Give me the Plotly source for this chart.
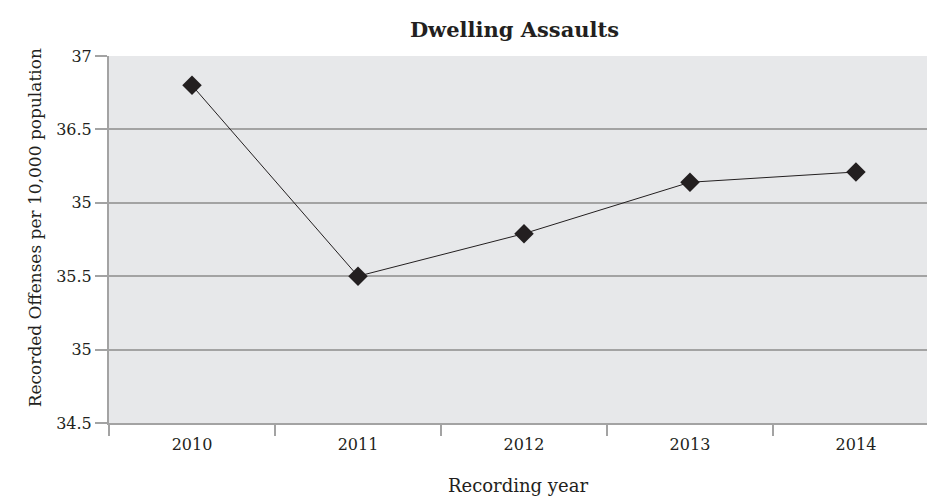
import plotly.graph_objects as go

years = ["2010", "2011", "2012", "2013", "2014"]
offenses = [36.80, 35.50, 35.79, 36.14, 36.21]
ytick_vals = [34.5, 35.0, 35.5, 36.0, 36.5, 37.0]
ytick_text = ["34.5", "35", "35.5", "35", "36.5", "37"]

FONT = "DejaVu Serif"
INK = "#231f20"
GRID = "#a3a3a3"

fig = go.Figure()
fig.add_trace(go.Scatter(
    x=years, y=offenses, mode="lines+markers",
    line=dict(color=INK, width=1),
    marker=dict(symbol="diamond", size=15, color=INK),
    showlegend=False,
))

fig.update_layout(
    width=927, height=502,
    margin=dict(l=109, r=0, t=56, b=79),
    paper_bgcolor="white", plot_bgcolor="#e7e8ea",
    font=dict(family=FONT, color=INK, size=15),
    title=dict(text="<b>Dwelling Assaults</b>", x=0.555, xanchor="center",
               y=0.94, yanchor="middle", font=dict(family=FONT, size=21, color=INK)),
    annotations=[dict(
        text="Recorded Offenses per 10,000 population", textangle=-90,
        xref="paper", yref="paper", x=-0.0905, y=0.533,
        xanchor="center", yanchor="middle", showarrow=False,
        font=dict(family=FONT, size=17, color=INK),
    )],
)
fig.update_xaxes(
    type="category", range=[-0.5, 4.428],
    tickson="boundaries", ticks="outside", ticklen=11, tickwidth=2, tickcolor=GRID,
    showgrid=False, showline=True, linecolor=GRID, linewidth=2,
    tickfont=dict(size=16), ticklabelstandoff=6,
    title=dict(text="Recording year", font=dict(size=18), standoff=26),
    zeroline=False,
)
fig.update_yaxes(
    range=[34.5, 37.0], tickvals=ytick_vals, ticktext=ytick_text,
    ticks="outside", ticklen=12, tickwidth=2, tickcolor=GRID,
    showgrid=True, gridcolor=GRID, gridwidth=2,
    showline=True, linecolor=GRID, linewidth=2,
    tickfont=dict(size=16), zeroline=False,
)
fig.write_html("out.html")
